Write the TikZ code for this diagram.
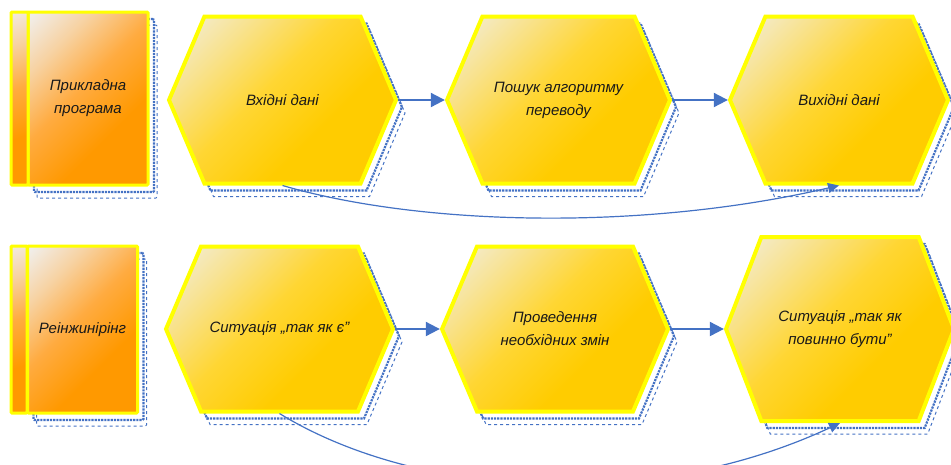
\documentclass[tikz,border=0pt]{standalone}
\usepackage{fontspec}
\setmainfont{Liberation Sans}
\usetikzlibrary{shapes.symbols,shadows,arrows.meta}

\definecolor{hexline}{HTML}{FFFF00}
\definecolor{gold}{HTML}{FFCC00}
\definecolor{goldsoft}{HTML}{FFD633}
\definecolor{goldpale}{HTML}{F8E28E}
\definecolor{cream}{HTML}{F2EEDF}
\definecolor{orange}{HTML}{FF9900}
\definecolor{orangesoft}{HTML}{FFAB40}
\definecolor{orangepale}{HTML}{F7D2A2}
\definecolor{bookcream}{HTML}{F1EEEA}
\definecolor{linkblue}{HTML}{4472C4}

% light corner at the top, rotated towards the upper left by the shading angle
\pgfdeclareverticalshading{hexfill}{100bp}{
  color(0bp)=(gold); color(38bp)=(gold); color(55bp)=(goldsoft);
  color(70bp)=(goldpale); color(84bp)=(cream); color(100bp)=(cream)}
\pgfdeclareverticalshading{bookfill}{100bp}{
  color(0bp)=(orange); color(36bp)=(orange); color(54bp)=(orangesoft);
  color(70bp)=(orangepale); color(84bp)=(bookcream); color(100bp)=(bookcream)}

\tikzset{
  dotshadow/.style={
    general shadow={shadow xshift=6pt, shadow yshift=-7pt, draw=linkblue, densely dotted, line width=2.2pt},
    general shadow={shadow xshift=9pt, shadow yshift=-13pt, draw=linkblue, dashed, line width=1pt}},
  label text/.style={font=\fontsize{15}{23}\selectfont\itshape, text=black!90, align=center},
  hexbox/.style={shape=signal, signal to=east and west, signal pointer angle=134,
    inner sep=0pt, draw=hexline, line width=4pt, shading=hexfill, shading angle=45,
    dotshadow, label text},
  bookbody/.style={rectangle, inner sep=0pt, draw=hexline, line width=3pt, rounded corners=1pt,
    shading=bookfill, shading angle=45, dotshadow, label text},
  bookspine/.style={rectangle, inner sep=0pt, draw=hexline, line width=3pt, rounded corners=1pt,
    shading=bookfill, shading angle=20},
  flow/.style={draw=linkblue, line width=2pt, -{Triangle[length=14pt,width=14pt]}},
  back/.style={draw=linkblue, line width=1.2pt, -{Triangle[length=11pt,width=10pt]}},
}

\begin{document}
\begin{tikzpicture}[x=1pt,y=-1pt]
  \useasboundingbox (0,0) rectangle (951,464);
  \clip (0,0) rectangle (951,464);

  % first row: application program
  \node[bookbody, minimum width=120pt, minimum height=173pt] (b1) at (88,98.5) {Прикладна\\програма};
  \node[bookspine, minimum width=17pt, minimum height=173pt] (b1s) at (19.5,98.5) {};

  \node[hexbox, minimum width=227pt, minimum height=167pt] (h1) at (282.5,100) {Вхідні дані};
  \node[hexbox, minimum width=223pt, minimum height=167pt] (h2) at (558.5,100) {Пошук алгоритму\\переводу};
  \node[hexbox, minimum width=218pt, minimum height=167pt] (h3) at (839,100) {Вихідні дані};

  \draw[flow] (h1.east) -- (h2.west);
  \draw[flow] (h2.east) -- (h3.west);
  \draw[back] (h1.south) .. controls +(137,40) and +(-198,46) .. (h3.south);

  % second row: reengineering
  \node[bookbody, minimum width=110pt, minimum height=167pt] (b2) at (82.5,329.5) {Реінжинірінг};
  \node[bookspine, minimum width=16pt, minimum height=167pt] (b2s) at (19,329.5) {};

  \node[hexbox, minimum width=227pt, minimum height=165pt] (h4) at (279.5,329) {Ситуація „так як є”};
  \node[hexbox, minimum width=226pt, minimum height=165pt] (h5) at (555,329) {Проведення\\необхідних змін};
  \node[hexbox, signal pointer angle=138, minimum width=228pt, minimum height=184pt] (h6) at (840,329) {Ситуація „так як\\повинно бути”};

  \draw[flow] (h4.east) -- (h5.west);
  \draw[flow] (h5.east) -- (h6.west);
  \draw[back] (h4.south) .. controls +(140,86) and +(-188,88) .. (h6.south);
\end{tikzpicture}
\end{document}
